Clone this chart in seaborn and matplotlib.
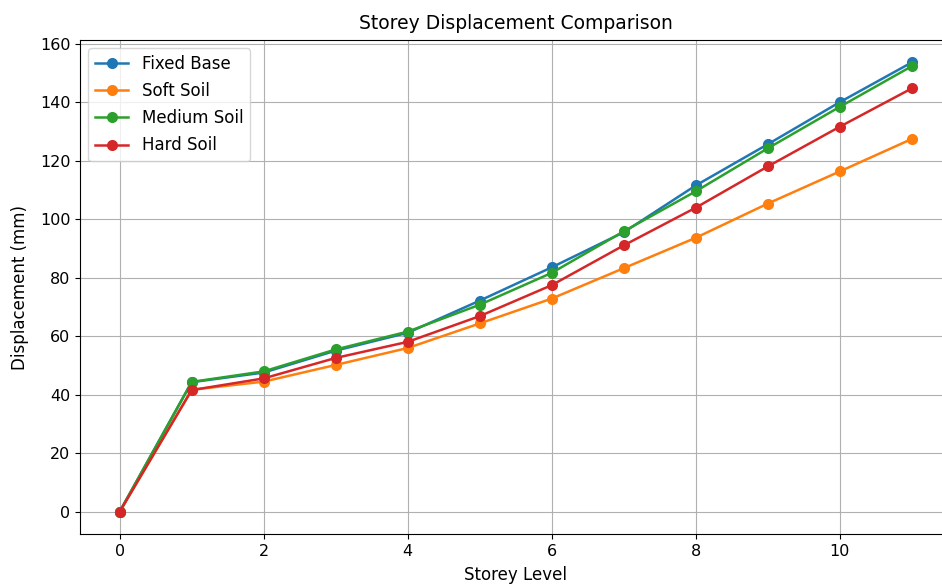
import matplotlib
matplotlib.use("Agg")
import matplotlib.pyplot as plt
import seaborn as sns
import pandas as pd

storey = [0, 1, 2, 3, 4, 5, 6, 7, 8, 9, 10, 11]
fixed_base = [0, 44.3, 47.6, 55.1, 61.2, 72.2, 83.6, 95.6, 111.6, 125.7, 140.1, 153.7]
soft_soil = [0, 41.7, 44.5, 50.2, 56.0, 64.4, 72.9, 83.3, 93.7, 105.4, 116.4, 127.5]
medium_soil = [0, 44.4, 48.0, 55.5, 61.6, 70.8, 81.7, 95.9, 109.6, 124.3, 138.5, 152.4]
hard_soil = [0, 41.6, 45.6, 52.6, 58.1, 66.9, 77.5, 91.1, 104.0, 118.1, 131.7, 144.8]

series = {
    "Fixed Base": fixed_base,
    "Soft Soil": soft_soil,
    "Medium Soil": medium_soil,
    "Hard Soil": hard_soil,
}
colors = ["#1f77b4", "#ff7f0e", "#2ca02c", "#d62728"]

fig = plt.figure(figsize=(9.42, 5.87), dpi=100)
ax = fig.add_axes([0.085, 0.090, 0.925, 0.842])

for (name, vals), c in zip(series.items(), colors):
    df = pd.DataFrame({"Storey Level": storey, "Displacement": vals})
    sns.lineplot(data=df, x="Storey Level", y="Displacement", ax=ax, color=c,
                 marker="o", markersize=8, markeredgewidth=0, linewidth=1.8,
                 label=name)

ax.grid(True, color="#b0b0b0", linewidth=0.8)
ax.set_axisbelow(True)
ax.set_title("Storey Displacement Comparison", fontsize=13.5, pad=8)
ax.set_xlabel("Storey Level", fontsize=12, labelpad=5)
ax.set_ylabel("Displacement (mm)", fontsize=12, labelpad=8)
ax.tick_params(labelsize=11.5)
ax.legend(loc="upper left", fontsize=12, labelspacing=0.55)

fig.savefig("out.png", dpi=100)
